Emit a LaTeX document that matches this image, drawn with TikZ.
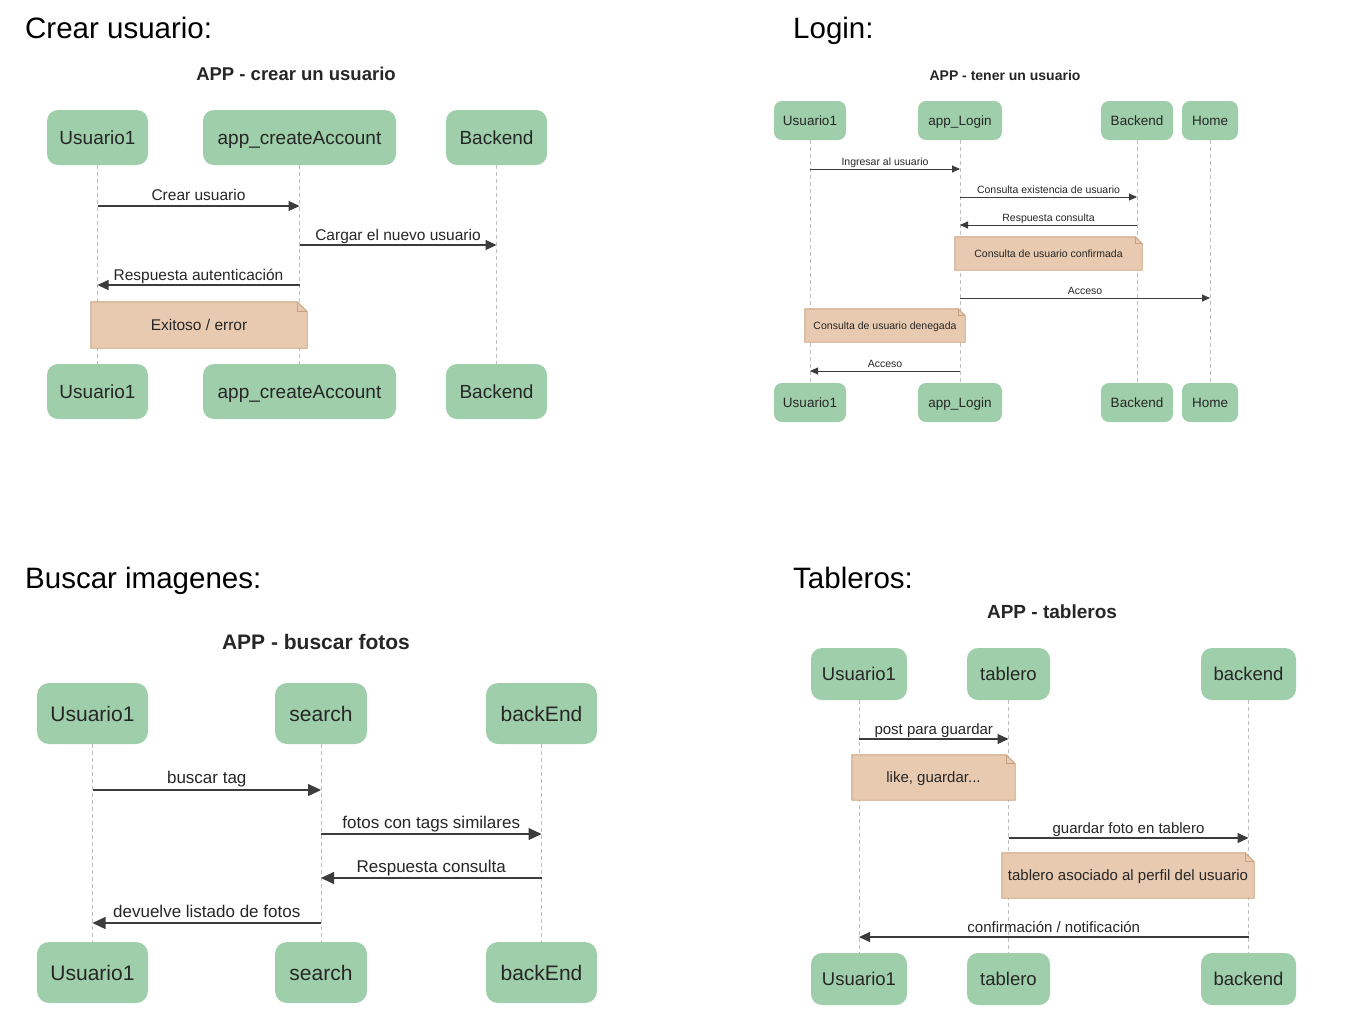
\documentclass[tikz,border=0pt]{standalone}
\usepackage{fontspec}
\setmainfont{Liberation Sans}
\usetikzlibrary{arrows.meta}
\definecolor{boxg}{RGB}{159,206,170}
\definecolor{notef}{RGB}{232,202,176}
\definecolor{noted}{RGB}{200,160,125}
\definecolor{txt}{RGB}{38,38,38}
\definecolor{lifec}{RGB}{190,190,190}
\pgfdeclarelayer{bg}
\pgfdeclarelayer{notes}
\pgfsetlayers{bg,notes,main}
\newcommand\fs[1]{\fontsize{#1}{#1}\selectfont}
\newcommand\mknote[2]{%
  \begin{pgfonlayer}{notes}
    \filldraw[fill=notef,draw=noted,line width=0.9pt]
      (#1.south west) -- (#1.north west) -- ([xshift=-#2]#1.north east)
      -- ([yshift=-#2]#1.north east) -- (#1.south east) -- cycle;
    \draw[draw=noted,line width=0.7pt]
      ([xshift=-#2]#1.north east) -- ([xshift=-#2,yshift=-#2]#1.north east)
      -- ([yshift=-#2]#1.north east);
  \end{pgfonlayer}}
\begin{document}
\begin{tikzpicture}[x=1pt,y=-1pt,
  actor/.style={rounded corners=11pt,fill=boxg,text=txt,inner sep=0pt},
  notebox/.style={inner sep=0pt,text=txt},
  lifeline/.style={draw=lifec,line width=0.9pt,dash pattern=on 4pt off 3pt},
  msg/.style={draw=txt!90!white,line width=1.1pt},
  tipA/.style={-{Triangle[length=11pt,width=10pt]}},
  tipB/.style={-{Triangle[length=8pt,width=7pt]}},
  tipC/.style={-{Triangle[length=13pt,width=12pt]}},
  tipD/.style={-{Triangle[length=11pt,width=10pt]}},
  heading/.style={anchor=base west,inner sep=0pt,text=black,font=\fs{29.5}},
  dtitle/.style={inner sep=0pt,text=txt},
  lab/.style={midway,anchor=base,inner sep=0pt,text=txt}]
\begin{pgfonlayer}{bg}
\fill[white] (0,0) rectangle (1346,1034);
\end{pgfonlayer}
\useasboundingbox (0,0) rectangle (1346,1034);

% ================= Panel 1: Crear usuario =================
\node[heading] (h1) at (25,38) {Crear usuario:};
\node[dtitle,font=\bfseries\fs{18.5}] (t1) at (296,74) {APP - crear un usuario};
\begin{scope}[every node/.append style={font=\fs{19}},actor/.append style={text height=13.6pt,text depth=0pt}]
\node[actor,minimum width=101,minimum height=55] (p1u) at (97.5,137.5) {Usuario1};
\node[actor,minimum width=193,minimum height=55] (p1a) at (299.5,137.5) {app\_createAccount};
\node[actor,minimum width=101,minimum height=55] (p1b) at (496.5,137.5) {Backend};
\node[actor,minimum width=101,minimum height=55] (q1u) at (97.5,391.5) {Usuario1};
\node[actor,minimum width=193,minimum height=55] (q1a) at (299.5,391.5) {app\_createAccount};
\node[actor,minimum width=101,minimum height=55] (q1b) at (496.5,391.5) {Backend};
\end{scope}
\begin{pgfonlayer}{bg}
\draw[lifeline] (p1u.south) -- (q1u.north);
\draw[lifeline] (p1a.south) -- (q1a.north);
\draw[lifeline] (p1b.south) -- (q1b.north);
\end{pgfonlayer}
\begin{scope}[every node/.append style={font=\fs{15.5}},notebox/.append style={text height=11.1pt,text depth=0pt}]
\draw[msg,tipA] (p1u |- 0,206) -- node[lab,yshift=6pt]{Crear usuario} (p1a |- 0,206);
\draw[msg,tipA] (p1a |- 0,245) -- node[lab,yshift=5pt]{Cargar el nuevo usuario} (p1b |- 0,245);
\draw[msg,tipA] (p1a |- 0,285) -- node[lab,yshift=5pt]{Respuesta autenticación} (p1u |- 0,285);
\node[notebox,minimum width=216,minimum height=46] (n1) at (199,325) {Exitoso / error};
\end{scope}
\mknote{n1}{10pt}

% ================= Panel 2: Login =================
\node[heading] (h2) at (793,38) {Login:};
\node[dtitle,font=\bfseries\fs{14}] (t2) at (1005,75) {APP - tener un usuario};
\begin{scope}[every node/.append style={font=\fs{13.5}},actor/.append style={rounded corners=8pt,text height=9.7pt,text depth=0pt}]
\node[actor,minimum width=72,minimum height=39] (p2u) at (810,120.5) {Usuario1};
\node[actor,minimum width=84,minimum height=39] (p2l) at (960,120.5) {app\_Login};
\node[actor,minimum width=72,minimum height=39] (p2b) at (1137,120.5) {Backend};
\node[actor,minimum width=56,minimum height=39] (p2h) at (1210,120.5) {Home};
\node[actor,minimum width=72,minimum height=39] (q2u) at (810,402.5) {Usuario1};
\node[actor,minimum width=84,minimum height=39] (q2l) at (960,402.5) {app\_Login};
\node[actor,minimum width=72,minimum height=39] (q2b) at (1137,402.5) {Backend};
\node[actor,minimum width=56,minimum height=39] (q2h) at (1210,402.5) {Home};
\end{scope}
\begin{pgfonlayer}{bg}
\draw[lifeline] (p2u.south) -- (q2u.north);
\draw[lifeline] (p2l.south) -- (q2l.north);
\draw[lifeline] (p2b.south) -- (q2b.north);
\draw[lifeline] (p2h.south) -- (q2h.north);
\end{pgfonlayer}
\begin{scope}[every node/.append style={font=\fs{10.5}},msg/.append style={line width=0.9pt},notebox/.append style={text height=7.5pt,text depth=0pt}]
\draw[msg,tipB] (p2u |- 0,169) -- node[lab,yshift=4pt]{Ingresar al usuario} (p2l |- 0,169);
\draw[msg,tipB] (p2l |- 0,197) -- node[lab,yshift=4pt]{Consulta existencia de usuario} (p2b |- 0,197);
\draw[msg,tipB] (p2b |- 0,225) -- node[lab,yshift=4pt]{Respuesta consulta} (p2l |- 0,225);
\node[notebox,minimum width=187,minimum height=33] (n2a) at (1048.5,253.5) {Consulta de usuario confirmada};
\draw[msg,tipB] (p2l |- 0,298) -- node[lab,yshift=4pt]{Acceso} (p2h |- 0,298);
\node[notebox,minimum width=160,minimum height=33] (n2b) at (885,325.5) {Consulta de usuario denegada};
\draw[msg,tipB] (p2l |- 0,371) -- node[lab,yshift=4pt]{Acceso} (p2u |- 0,371);
\end{scope}
\mknote{n2a}{7pt}
\mknote{n2b}{7pt}

% ================= Panel 3: Buscar imagenes =================
\node[heading] (h3) at (25,588) {Buscar imagenes:};
\node[dtitle,font=\bfseries\fs{21}] (t3) at (316,642) {APP - buscar fotos};
\begin{scope}[every node/.append style={font=\fs{21}},actor/.append style={rounded corners=12pt,text height=15pt,text depth=0pt}]
\node[actor,minimum width=111,minimum height=61] (p3u) at (92.5,713.5) {Usuario1};
\node[actor,minimum width=92,minimum height=61] (p3s) at (321,713.5) {search};
\node[actor,minimum width=111,minimum height=61] (p3b) at (541.5,713.5) {backEnd};
\node[actor,minimum width=111,minimum height=61] (q3u) at (92.5,972.5) {Usuario1};
\node[actor,minimum width=92,minimum height=61] (q3s) at (321,972.5) {search};
\node[actor,minimum width=111,minimum height=61] (q3b) at (541.5,972.5) {backEnd};
\end{scope}
\begin{pgfonlayer}{bg}
\draw[lifeline] (p3u.south) -- (q3u.north);
\draw[lifeline] (p3s.south) -- (q3s.north);
\draw[lifeline] (p3b.south) -- (q3b.north);
\end{pgfonlayer}
\begin{scope}[every node/.append style={font=\fs{17}},msg/.append style={line width=1.2pt}]
\draw[msg,tipC] (p3u |- 0,790) -- node[lab,yshift=7pt]{buscar tag} (p3s |- 0,790);
\draw[msg,tipC] (p3s |- 0,834) -- node[lab,yshift=6pt]{fotos con tags similares} (p3b |- 0,834);
\draw[msg,tipC] (p3b |- 0,878) -- node[lab,yshift=6pt]{Respuesta consulta} (p3s |- 0,878);
\draw[msg,tipC] (p3s |- 0,923) -- node[lab,yshift=6pt]{devuelve listado de fotos} (p3u |- 0,923);
\end{scope}

% ================= Panel 4: Tableros =================
\node[heading] (h4) at (793,588) {Tableros:};
\node[dtitle,font=\bfseries\fs{19}] (t4) at (1052,612) {APP - tableros};
\begin{scope}[every node/.append style={font=\fs{18.5}},actor/.append style={rounded corners=11pt,text height=13.2pt,text depth=0pt}]
\node[actor,minimum width=96,minimum height=52] (p4u) at (859,674) {Usuario1};
\node[actor,minimum width=83,minimum height=52] (p4t) at (1008.5,674) {tablero};
\node[actor,minimum width=95,minimum height=52] (p4b) at (1248.5,674) {backend};
\node[actor,minimum width=96,minimum height=52] (q4u) at (859,979) {Usuario1};
\node[actor,minimum width=83,minimum height=52] (q4t) at (1008.5,979) {tablero};
\node[actor,minimum width=95,minimum height=52] (q4b) at (1248.5,979) {backend};
\end{scope}
\begin{pgfonlayer}{bg}
\draw[lifeline] (p4u.south) -- (q4u.north);
\draw[lifeline] (p4t.south) -- (q4t.north);
\draw[lifeline] (p4b.south) -- (q4b.north);
\end{pgfonlayer}
\begin{scope}[every node/.append style={font=\fs{15}},notebox/.append style={text height=10.7pt,text depth=0pt}]
\draw[msg,tipD] (p4u |- 0,739) -- node[lab,yshift=4.5pt]{post para guardar} (p4t |- 0,739);
\node[notebox,minimum width=163,minimum height=45] (n4a) at (933.5,777.5) {like, guardar...};
\draw[msg,tipD] (p4t |- 0,838) -- node[lab,yshift=4.5pt]{guardar foto en tablero} (p4b |- 0,838);
\node[notebox,minimum width=252,minimum height=45] (n4b) at (1128,875.5) {tablero asociado al perfil del usuario};
\draw[msg,tipD] (p4b |- 0,937) -- node[lab,yshift=5pt]{confirmación / notificación} (p4u |- 0,937);
\end{scope}
\mknote{n4a}{9pt}
\mknote{n4b}{9pt}
\end{tikzpicture}
\end{document}
